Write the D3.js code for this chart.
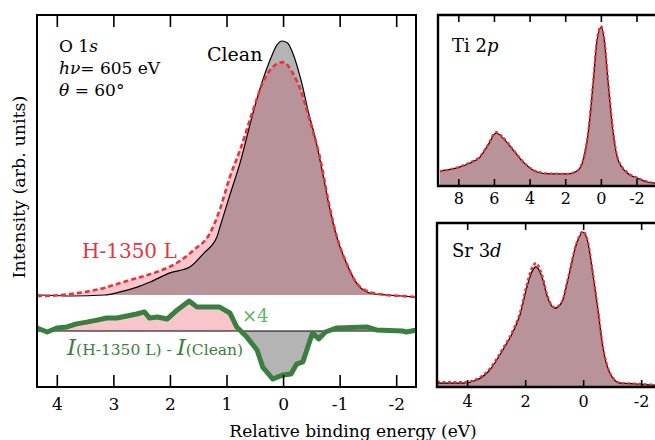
<!DOCTYPE html>
<html>
<head>
<meta charset="utf-8">
<script src="https://cdn.jsdelivr.net/npm/d3@7"></script>
<style>
body { margin: 0; background: #fff; }
svg { display: block; }
text { font-family: "DejaVu Serif", serif; fill: #000; }
</style>
</head>
<body>
<svg id="chart" width="655" height="440"></svg>
<script>
// O 1s, clean surface (relative binding energy in eV, intensity normalised to peak)
const o1sCleanE = [4.35, 4.29, 3.76, 3.16, 2.88, 2.58, 2.35, 2.0, 1.65, 1.40, 1.17, 1.12, 0.94, 0.76, 0.53, 0.36, 0.23, 0.11, 0.02, -0.08, -0.17, -0.33, -0.44, -0.59, -0.70, -0.82, -0.95, -1.12, -1.30, -1.53, -1.83, -2.10, -2.35];
const o1sCleanI = [0.0, 0.0, -0.004, 0.0, 0.012, 0.031, 0.051, 0.087, 0.110, 0.165, 0.228, 0.264, 0.394, 0.52, 0.717, 0.846, 0.925, 0.984, 1.0, 0.992, 0.953, 0.835, 0.728, 0.598, 0.480, 0.346, 0.228, 0.126, 0.047, 0.008, 0.0, -0.004, -0.008];
// O 1s, H-1350 L
const o1sH1350E = [4.35, 4.29, 3.76, 3.16, 2.88, 2.58, 2.23, 1.88, 1.58, 1.29, 1.12, 0.94, 0.76, 0.53, 0.36, 0.18, 0.0, -0.17, -0.33, -0.47, -0.65, -0.82, -0.95, -1.12, -1.30, -1.53, -1.83, -2.10, -2.35];
const o1sH1350I = [-0.004, -0.004, 0.004, 0.028, 0.047, 0.067, 0.091, 0.126, 0.177, 0.244, 0.335, 0.465, 0.571, 0.728, 0.835, 0.898, 0.917, 0.874, 0.795, 0.689, 0.543, 0.350, 0.230, 0.126, 0.047, 0.012, 0.0, -0.004, -0.008];
// difference I(H-1350 L) - I(Clean), already x4
const diffE = [4.35, 4.17, 4.0, 3.82, 3.65, 3.47, 3.29, 3.12, 2.94, 2.76, 2.59, 2.45, 2.36, 2.22, 2.05, 1.87, 1.66, 1.52, 1.30, 1.12, 0.94, 0.82, 0.64, 0.46, 0.36, 0.18, 0.0, -0.14, -0.24, -0.35, -0.52, -0.63, -0.75, -0.95, -1.48, -1.65, -2.11, -2.18, -2.36];
const diffI = [0.012, -0.004, 0.012, 0.016, 0.028, 0.035, 0.043, 0.051, 0.051, 0.059, 0.067, 0.075, 0.051, 0.055, 0.047, 0.083, 0.118, 0.094, 0.094, 0.094, 0.071, 0.016, -0.024, -0.075, -0.142, -0.189, -0.173, -0.169, -0.130, -0.122, -0.008, -0.031, -0.004, 0.012, 0.016, 0.004, 0.0, -0.004, 0.004];

// Ti 2p
const ti2pE = [9.03, 8.07, 7.34, 6.78, 6.33, 5.88, 5.49, 4.93, 4.37, 3.58, 2.85, 1.89, 1.33, 0.99, 0.71, 0.43, 0.21, -0.02, -0.19, -0.41, -0.69, -0.97, -1.48, -2.04, -2.60, -2.94, -3.4];
const ti2pClean = [0.089, 0.108, 0.139, 0.177, 0.253, 0.329, 0.297, 0.222, 0.146, 0.082, 0.070, 0.070, 0.089, 0.158, 0.329, 0.646, 0.918, 1.0, 0.918, 0.646, 0.329, 0.158, 0.076, 0.044, 0.019, 0.013, 0.006];
const ti2pH1350 = [0.086, 0.110, 0.142, 0.180, 0.256, 0.334, 0.300, 0.224, 0.148, 0.084, 0.072, 0.070, 0.090, 0.160, 0.332, 0.650, 0.922, 1.005, 0.922, 0.650, 0.332, 0.160, 0.080, 0.046, 0.021, 0.013, 0.006];

// Sr 3d
const sr3dE = [5.04, 4.15, 3.67, 3.22, 2.77, 2.42, 2.18, 1.94, 1.77, 1.63, 1.42, 1.22, 0.98, 0.73, 0.53, 0.22, 0.01, -0.16, -0.33, -0.51, -0.68, -0.92, -1.27, -1.85, -2.40, -2.65];
const sr3dClean = [0.019, 0.019, 0.039, 0.104, 0.234, 0.351, 0.461, 0.643, 0.740, 0.773, 0.708, 0.571, 0.506, 0.545, 0.688, 0.929, 1.0, 0.935, 0.734, 0.494, 0.253, 0.084, 0.019, 0.013, 0.006, 0.006];
const sr3dH1350 = [0.026, 0.024, 0.045, 0.112, 0.242, 0.360, 0.472, 0.660, 0.765, 0.797, 0.722, 0.578, 0.510, 0.548, 0.692, 0.932, 1.003, 0.938, 0.738, 0.497, 0.257, 0.088, 0.021, 0.014, 0.008, 0.006];

const xTicksMain = [4, 3, 2, 1, 0, -1, -2];
const xTicksTi = [8, 6, 4, 2, 0, -2];
const xTicksSr = [4, 2, 0, -2];

const grayFill = '#b4b4b4';
const pinkFill = '#f8c6ca';
const mauveFill = '#b9939a';
const redLine = '#e8323c';
const darkGreen = '#3a7f3f';
const lightGreen = '#5bb55e';

const svg = d3.select('#chart');
const tickFmt = (d) => d < 0 ? '-' + (-d) : String(d);
const zip = (es, vs) => es.map((e, i) => ({e: e, v: vs[i]}));

function drawSpectrum(g, id, x, y, clean, h1350, dash, dashWidth) {
    const area = d3.area()
        .curve(d3.curveMonotoneX)
        .x((d) => x(d.e))
        .y0(y(0))
        .y1((d) => y(Math.max(d.v, 0)));
    const line = d3.line()
        .curve(d3.curveMonotoneX)
        .x((d) => x(d.e))
        .y((d) => y(d.v));

    g.append('clipPath').attr('id', id)
        .append('path').attr('d', area(clean));

    g.append('path').attr('d', area(clean)).attr('fill', grayFill);
    g.append('path').attr('d', area(h1350)).attr('fill', pinkFill);
    g.append('path').attr('d', area(h1350)).attr('fill', mauveFill)
        .attr('clip-path', `url(#${id})`);

    g.append('path').attr('d', line(clean))
        .attr('fill', 'none').attr('stroke', '#000').attr('stroke-width', 1.2);
    g.append('path').attr('d', line(h1350))
        .attr('fill', 'none').attr('stroke', redLine)
        .attr('stroke-width', dashWidth).attr('stroke-dasharray', dash);
}

function drawTicks(g, x, top, bottom, ticks, len, pad, size) {
    const axB = g.append('g').attr('transform', `translate(0,${bottom})`)
        .call(d3.axisBottom(x).tickValues(ticks).tickSize(-len).tickPadding(pad).tickFormat(tickFmt));
    const axT = g.append('g').attr('transform', `translate(0,${top})`)
        .call(d3.axisTop(x).tickValues(ticks).tickSize(-len).tickFormat(''));
    [axB, axT].forEach((ax) => {
        ax.select('.domain').remove();
        ax.attr('font-family', '"DejaVu Serif", serif');
        ax.selectAll('line').attr('stroke', '#000').attr('stroke-width', 1.6);
    });
    axB.selectAll('text')
        .style('font-family', '"DejaVu Serif", serif')
        .style('font-size', size + 'px')
        .attr('fill', '#000');
}

// ---------------- main O 1s panel ----------------
const main = svg.append('g');
const xMain = d3.scaleLinear().domain([4.35, -2.35]).range([37, 416]);
const yMain = d3.scaleLinear().domain([0, 1]).range([295, 41]);
const yDiff = d3.scaleLinear().domain([0, 1]).range([331, 77]);

drawSpectrum(main, 'clipO1s', xMain, yMain,
    zip(o1sCleanE, o1sCleanI), zip(o1sH1350E, o1sH1350I), '5,3', 2.6);

// difference curve
const diff = zip(diffE, diffI);
const diffArea = d3.area()
    .x((d) => xMain(d.e))
    .y0(yDiff(0))
    .y1((d) => yDiff(d.v));
main.append('clipPath').attr('id', 'clipPos')
    .append('rect').attr('x', 37).attr('y', 0).attr('width', 379).attr('height', yDiff(0));
main.append('clipPath').attr('id', 'clipNeg')
    .append('rect').attr('x', 37).attr('y', yDiff(0)).attr('width', 379).attr('height', 100);
main.append('path').attr('d', diffArea(diff)).attr('fill', pinkFill).attr('clip-path', 'url(#clipPos)');
main.append('path').attr('d', diffArea(diff)).attr('fill', grayFill).attr('clip-path', 'url(#clipNeg)');
main.append('line')
    .attr('x1', 37).attr('x2', 416)
    .attr('y1', yDiff(0)).attr('y2', yDiff(0))
    .attr('stroke', '#000').attr('stroke-width', 1);
main.append('path')
    .attr('d', d3.line().x((d) => xMain(d.e)).y((d) => yDiff(d.v))(diff))
    .attr('fill', 'none').attr('stroke', darkGreen)
    .attr('stroke-width', 5).attr('stroke-linejoin', 'round');

main.append('rect')
    .attr('x', 37).attr('y', 15).attr('width', 379).attr('height', 372)
    .attr('fill', 'none').attr('stroke', '#000').attr('stroke-width', 2);
drawTicks(main, xMain, 15, 387, xTicksMain, 12, 11, 17);

// labels
const info = main.append('text').style('font-size', '17px');
info.append('tspan').attr('x', 59).attr('y', 52).text('O 1');
info.append('tspan').style('font-style', 'italic').text('s');
const hv = main.append('text').style('font-size', '17px').attr('x', 59).attr('y', 74);
hv.append('tspan').style('font-style', 'italic').text('hν');
hv.append('tspan').text('= 605 eV');
const th = main.append('text').style('font-size', '17px').attr('x', 59).attr('y', 96);
th.append('tspan').style('font-style', 'italic').text('θ');
th.append('tspan').text(' = 60°');

main.append('text').attr('x', 207).attr('y', 61).style('font-size', '19px').text('Clean');
main.append('text').attr('x', 82).attr('y', 258).style('font-size', '20px')
    .style('fill', redLine).text('H-1350 L');
main.append('text').attr('x', 242).attr('y', 322).style('font-size', '18px')
    .style('fill', lightGreen).text('×4');

const dl = main.append('text').attr('x', 67).attr('y', 355).style('fill', darkGreen).style('font-size', '15.5px');
dl.append('tspan').style('font-style', 'italic').style('font-size', '23px').text('I');
dl.append('tspan').text('(H-1350 L) - ');
dl.append('tspan').style('font-style', 'italic').style('font-size', '23px').text('I');
dl.append('tspan').text('(Clean)');

svg.append('text')
    .attr('transform', 'translate(25,187) rotate(-90)')
    .attr('text-anchor', 'middle')
    .style('font-size', '17.5px')
    .text('Intensity (arb. units)');
svg.append('text')
    .attr('x', 353).attr('y', 437)
    .attr('text-anchor', 'middle')
    .style('font-size', '17px')
    .text('Relative binding energy (eV)');

// ---------------- Ti 2p panel ----------------
const ti = svg.append('g');
const xTi = d3.scaleLinear().domain([9.14, -3.6]).range([438, 665]);
const yTi = d3.scaleLinear().domain([0, 1]).range([185, 27]);
drawSpectrum(ti, 'clipTi', xTi, yTi, zip(ti2pE, ti2pClean), zip(ti2pE, ti2pH1350), '3,2.5', 2.4);
ti.append('path').attr('d', 'M656,15H438V186H656')
    .attr('fill', 'none').attr('stroke', '#000').attr('stroke-width', 2.4);
drawTicks(ti, xTi, 15, 186, xTicksTi, 7, 7, 16);
const tiLab = ti.append('text').attr('x', 452).attr('y', 52).style('font-size', '18px');
tiLab.append('tspan').text('Ti 2');
tiLab.append('tspan').style('font-style', 'italic').text('p');

// ---------------- Sr 3d panel ----------------
const sr = svg.append('g');
const xSr = d3.scaleLinear().domain([5.04, -2.65]).range([437, 660]);
const ySr = d3.scaleLinear().domain([0, 1]).range([386, 232]);
drawSpectrum(sr, 'clipSr', xSr, ySr, zip(sr3dE, sr3dClean), zip(sr3dE, sr3dH1350), '3,2.5', 2.4);
sr.append('path').attr('d', 'M656,223H437V387H656')
    .attr('fill', 'none').attr('stroke', '#000').attr('stroke-width', 2.4);
drawTicks(sr, xSr, 223, 387, xTicksSr, 7, 9, 16);
const srLab = sr.append('text').attr('x', 452).attr('y', 257).style('font-size', '18px');
srLab.append('tspan').text('Sr 3');
srLab.append('tspan').style('font-style', 'italic').text('d');
</script>
</body>
</html>
